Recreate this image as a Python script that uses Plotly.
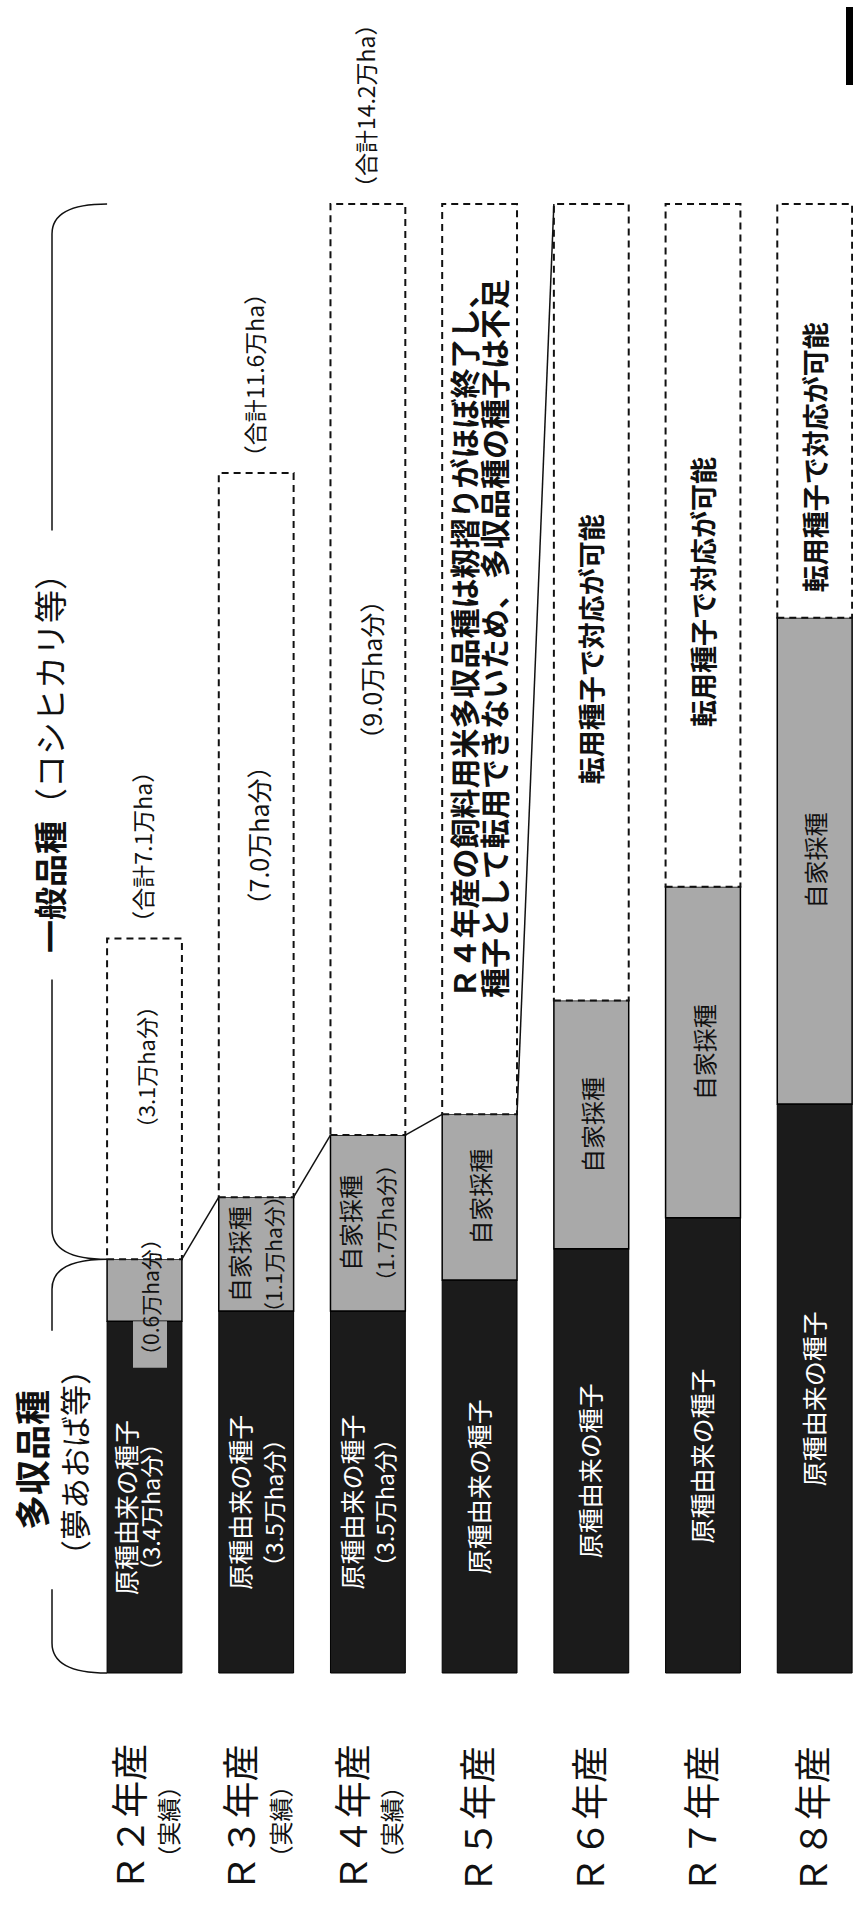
import plotly.graph_objects as go

# 産年
years = ["Ｒ２年産", "Ｒ３年産", "Ｒ４年産", "Ｒ５年産", "Ｒ６年産", "Ｒ７年産", "Ｒ８年産"]
year_notes = ["（実績）", "（実績）", "（実績）", "", "", "", ""]

# 多収品種：原種由来の種子（万ha）
origin_seed = [3.4, 3.5, 3.5, 3.8, 4.1, 4.4, 5.5]
# 多収品種：自家採種（万ha）
farm_saved = [0.6, 1.1, 1.7, 1.6, 2.4, 3.2, 4.7]
# 一般品種など残りの面積（万ha）
general_area = [3.1, 7.0, 9.0, 8.8, 7.7, 6.6, 4.0]

# 実績年（R2〜R4）の内訳を数値付きで表示
actual_years = 3

# テキスト
origin_text = "原種由来の種子"
farm_text = "自家採種"
r5_lines = ["Ｒ４年産の飼料用米多収品種は籾摺りがほぼ終了し、",
            "種子として転用できないため、多収品種の種子は不足"]
switch_text = "転用種子で対応が可能"

# ---- 描画設定 ----
W, H = 853, 1906
X0_PX, STEP_PX = 144.5, 111.7      # 1本目の棒の中心と棒の間隔（px）
BASE_PX, UNIT_PX = 1673, 103.45    # 0万haの位置と1万haあたりの長さ（px）
BAR_W = 0.67
FONT = "Noto Sans CJK JP"
DARK = "#1b1b1b"
GRAY = "#a9a9a9"
INK = "#111111"


def px_x(p):
    return (p - X0_PX) / STEP_PX


def px_y(p):
    return (BASE_PX - p) / UNIT_PX


n = len(years)
idx = list(range(n))
seed_top = [o + f for o, f in zip(origin_seed, farm_saved)]
totals = [s + g for s, g in zip(seed_top, general_area)]

fig = go.Figure()
fig.add_trace(go.Bar(x=idx, y=origin_seed, base=[0] * n, width=BAR_W,
                     marker=dict(color=DARK, line=dict(color="#000", width=1)),
                     hoverinfo="skip"))
fig.add_trace(go.Bar(x=idx, y=farm_saved, base=origin_seed, width=BAR_W,
                     marker=dict(color=GRAY, line=dict(color="#000", width=1.5)),
                     hoverinfo="skip"))
fig.add_trace(go.Bar(x=idx, y=general_area, base=seed_top, width=BAR_W,
                     marker=dict(color="white", line=dict(width=0)),
                     hoverinfo="skip"))

shapes = []
annotations = []


def note(text, x, y, size, color=INK, xanchor="center", yanchor="middle"):
    annotations.append(dict(text=text, x=x, y=y, xref="x", yref="y",
                            showarrow=False, textangle=-90,
                            xanchor=xanchor, yanchor=yanchor,
                            font=dict(family=FONT, size=size, color=color)))


# 点線の枠（一般品種など）
for i in idx:
    shapes.append(dict(type="rect", xref="x", yref="y",
                       x0=i - BAR_W / 2, x1=i + BAR_W / 2,
                       y0=seed_top[i], y1=totals[i],
                       line=dict(color=INK, width=2, dash="7px,5px"),
                       layer="above"))

# 自家採種の上端をつなぐ線
for i in range(3):
    shapes.append(dict(type="line", xref="x", yref="y",
                       x0=i + BAR_W / 2, y0=seed_top[i],
                       x1=i + 1 - BAR_W / 2, y1=seed_top[i + 1],
                       line=dict(color=INK, width=1.5)))
shapes.append(dict(type="line", xref="x", yref="y",
                   x0=3 + BAR_W / 2, y0=seed_top[3],
                   x1=4 - BAR_W / 2, y1=totals[4],
                   line=dict(color=INK, width=1.5)))

# R2 自家採種ラベルの背景
shapes.append(dict(type="rect", xref="x", yref="y",
                   x0=px_x(133), x1=px_x(167),
                   y0=origin_seed[0] - 0.45, y1=origin_seed[0],
                   fillcolor=GRAY, line=dict(width=0), layer="above"))

# 左側の括弧
bx = px_x(52)
tip = -BAR_W / 2
r = 0.29
split = seed_top[0]
top = max(totals)
lo_c, lo_h = px_y(1460), 1.25
up_c, up_h = px_y(755), 2.17
brace = (f"M {tip},0 Q {bx},0 {bx},{r} L {bx},{lo_c - lo_h} "
         f"M {bx},{lo_c + lo_h} L {bx},{split - r} Q {bx},{split} {tip},{split} "
         f"Q {bx},{split} {bx},{split + r} L {bx},{up_c - up_h} "
         f"M {bx},{up_c + up_h} L {bx},{top - r} Q {bx},{top} {tip},{top}")
shapes.append(dict(type="path", xref="x", yref="y", path=brace,
                   line=dict(color=INK, width=1.5)))

# 右上の黒帯
shapes.append(dict(type="rect", xref="paper", yref="paper",
                   x0=846 / W, x1=1.0, y0=1 - 85 / H, y1=1 - 7 / H,
                   fillcolor="#000", line=dict(width=0)))

# 見出し
note("<b>多収品種</b>", px_x(30), lo_c, 35)
note("（夢あおば等）", px_x(73), px_y(1463), 31)
note("<b>一般品種</b>（コシヒカリ等）", px_x(49), up_c, 33)

# 年産ラベル
for i in idx:
    if year_notes[i]:
        note(years[i], i - 0.15, px_y(1818), 37)
        note(year_notes[i], i + 0.20, px_y(1822), 24)
    else:
        note(years[i], i - 0.03, px_y(1820), 37)

# 棒の中の文字
for i in idx:
    o, f, g = origin_seed[i], farm_saved[i], general_area[i]
    y_dark = o / 2 - 0.1
    y_gray = o + f / 2
    y_white = seed_top[i] + g / 2
    if i < actual_years:
        left, right = (-0.17, 0.05) if i == 0 else (-0.15, 0.15)
        note(origin_text, i + left, y_dark, 25, "white")
        note(f"（{o:.1f}万ha分）", i + right, y_dark, 23, "white")
        if i == 0:
            note(f"（{f:.1f}万ha分）", i + 0.05, o - 0.45, 21, yanchor="bottom")
            note(f"（{g:.1f}万ha分）", i, y_white + 0.3, 22)
        else:
            note(farm_text, i - 0.16, y_gray, 24)
            note(f"（{f:.1f}万ha分）", i + 0.15, y_gray, 21)
            note(f"（{g:.1f}万ha分）", i + 0.02, y_white, 25)
        note(f"（合計{totals[i]:.1f}万ha）", i - 0.02, totals[i] + 0.03, 23,
             yanchor="bottom")
    else:
        note(origin_text, i - 0.02, y_dark, 25, "white")
        note(farm_text, i, y_gray, 24)
        if i == actual_years:
            note(f"<b>{r5_lines[0]}</b>", i - 0.15, seed_top[i] + 1.1, 30,
                 yanchor="bottom")
            note(f"<b>{r5_lines[1]}</b>", i + 0.12, seed_top[i] + 1.1, 30,
                 yanchor="bottom")
        else:
            note(f"<b>{switch_text}</b>", i, y_white - 0.45, 27)

fig.update_layout(
    width=W, height=H,
    margin=dict(l=0, r=0, t=0, b=0),
    paper_bgcolor="white", plot_bgcolor="white",
    barmode="overlay", showlegend=False,
    xaxis=dict(range=[px_x(0), px_x(W)], visible=False, fixedrange=True),
    yaxis=dict(range=[px_y(H), px_y(0)], visible=False, fixedrange=True),
    shapes=shapes, annotations=annotations,
)

fig.write_html("out.html")
